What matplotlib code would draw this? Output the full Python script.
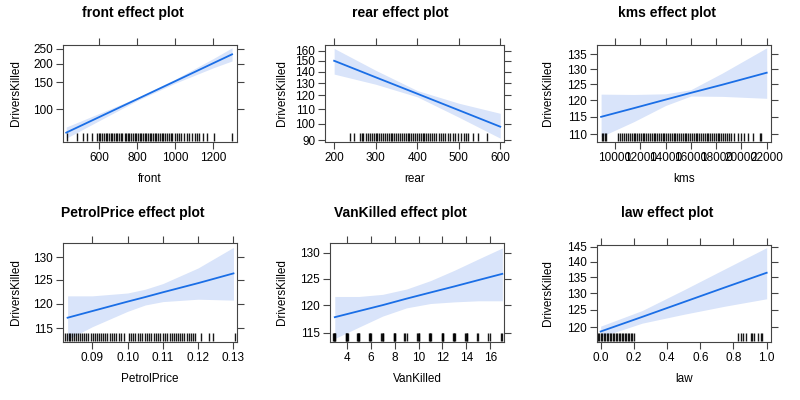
import matplotlib.pyplot as plt
import matplotlib.transforms as mtransforms
from matplotlib.ticker import NullLocator

plt.rcParams['font.family'] = ['Liberation Sans', 'DejaVu Sans']

line_color = '#1a6ee6'
band_color = '#d9e4fa'
frame_color = '#444444'

# effect estimates (fit, lower, upper)
front_x = [426, 600, 800, 1000, 1200, 1299]
front_fit = [70, 88.7, 116.5, 153, 201, 230]
front_lo = [64.3, 84.0, 114.0, 148.5, 187.4, 208]
front_hi = [76.2, 93.7, 119.1, 157.7, 215.6, 254]

rear_x = [200, 300, 400, 500, 600]
rear_fit = [150, 134.9, 121.4, 109.2, 98.2]
rear_lo = [137.7, 129.0, 119.0, 104.4, 91.2]
rear_hi = [162.4, 141.1, 123.9, 114.2, 107]

kms_x = [8900, 11500, 14000, 16000, 18500, 22000]
kms_fit = [115, 117.6, 120.2, 122.3, 124.9, 128.8]
kms_lo = [109.3, 113.6, 118.4, 121.3, 121.2, 120.6]
kms_hi = [121.9, 121.8, 122.0, 123.3, 128.7, 137.3]

petrol_x = [0.083, 0.09, 0.10, 0.105, 0.11, 0.12, 0.13]
petrol_fit = [117.1, 118.45, 120.4, 121.35, 122.35, 124.3, 126.4]
petrol_lo = [112.8, 115.3, 118.4, 119.7, 120.4, 120.9, 120.7]
petrol_hi = [121.6, 121.6, 122.2, 123.0, 124.2, 127.6, 132.2]

van_x = [3, 5, 7, 9, 11, 13, 15, 17]
van_fit = [117.8, 118.9, 120.0, 121.2, 122.35, 123.5, 124.7, 125.9]
van_lo = [114.0, 116.0, 118.0, 119.5, 120.3, 120.6, 120.8, 120.8]
van_hi = [121.6, 121.6, 122.0, 123.0, 124.6, 126.6, 128.8, 131.0]

law_x = [0, 0.25, 0.5, 0.75, 1.0]
law_fit = [118.8, 122.95, 127.3, 131.8, 136.4]
law_lo = [117.3, 121.15, 123.7, 126.1, 128.3]
law_hi = [120.3, 124.8, 131.0, 137.7, 144.7]

# rug (observed values of each predictor)
front_rug = [432, 484, 516, 537, 563, 586, 596, 605, 613, 624, 633, 641, 652, 660,
             668, 679, 688, 695, 705, 714, 722, 733, 741, 750, 759, 768, 777, 786,
             795, 803, 812, 822, 830, 839, 848, 857, 866, 874, 884, 892, 901, 910,
             918, 928, 936, 946, 955, 966, 975, 985, 996, 1008, 1020, 1031, 1045,
             1060, 1073, 1086, 1103, 1112, 1126, 1144, 1165, 1203, 1299]
rear_rug = [238, 248, 262, 266, 270, 276, 281, 286, 290, 295, 300, 304, 309, 313,
            318, 322, 327, 331, 336, 340, 345, 349, 354, 358, 363, 368, 372, 377,
            381, 386, 390, 395, 399, 404, 408, 413, 417, 422, 426, 431, 436, 441,
            446, 452, 457, 463, 468, 474, 480, 486, 492, 499, 506, 512, 518, 522,
            534, 546, 568]
kms_rug = [8948, 9080, 9211, 9316, 10263, 10420, 10550, 10700, 10880, 11020, 11150,
           11310, 11480, 11600, 11760, 11900, 12040, 12180, 12330, 12470, 12610,
           12760, 12900, 13050, 13190, 13340, 13480, 13620, 13770, 13910, 14060,
           14200, 14350, 14490, 14640, 14780, 14920, 15070, 15210, 15360, 15500,
           15650, 15790, 15940, 16080, 16230, 16370, 16520, 16660, 16810, 16950,
           17100, 17240, 17390, 17530, 17680, 17820, 17970, 18110, 18260, 18400,
           18550, 18700, 18850, 19000, 19200, 19420, 19700, 19941, 20204, 20520,
           20941, 21441, 21572]
petrol_rug = [0.0822, 0.0828, 0.0833, 0.0838, 0.0843, 0.0849, 0.0854, 0.0860,
              0.0866, 0.0871, 0.0877, 0.0883, 0.0889, 0.0895, 0.0901, 0.0907,
              0.0913, 0.0919, 0.0925, 0.0931, 0.0937, 0.0943, 0.0949, 0.0955,
              0.0961, 0.0968, 0.0975, 0.0982, 0.0989, 0.1003, 0.1009, 0.1016,
              0.1022, 0.1029, 0.1035, 0.1041, 0.1048, 0.1054, 0.1061, 0.1067,
              0.1074, 0.1080, 0.1087, 0.1093, 0.1100, 0.1106, 0.1113, 0.1119,
              0.1125, 0.1131, 0.1137, 0.1143, 0.1149, 0.1155, 0.1161, 0.1167,
              0.1173, 0.1179, 0.1185, 0.1191, 0.1209, 0.1232, 0.1243, 0.1303]
van_rug = [2.85, 2.9, 2.95, 3.0, 3.05, 3.9, 3.95, 4.0, 4.05, 4.12, 4.85, 4.9, 4.95,
           5.0, 5.05, 5.88, 5.93, 5.98, 6.03, 6.9, 6.95, 7.0, 7.05, 7.92, 7.97,
           8.02, 8.07, 8.8, 8.9, 9.0, 9.9, 9.95, 10.0, 10.05, 10.85, 10.92, 10.97,
           11.02, 11.92, 11.97, 12.02, 12.07, 12.9, 12.95, 13.0, 13.05, 13.92,
           13.97, 14.02, 14.07, 14.85, 14.95, 15.8, 15.95, 16.9, 17.0]
law_rug = [-0.018, -0.009, 0.0, 0.009, 0.018, 0.027, 0.036, 0.045, 0.054, 0.063,
           0.072, 0.081, 0.09, 0.099, 0.108, 0.117, 0.126, 0.135, 0.144, 0.153,
           0.162, 0.171, 0.18, 0.189, 0.198, 0.829, 0.843, 0.857, 0.873, 0.904,
           0.914, 0.924, 0.948, 0.964, 0.974]

names = ['front', 'rear', 'kms', 'PetrolPrice', 'VanKilled', 'law']
xs = [front_x, rear_x, kms_x, petrol_x, van_x, law_x]
fits = [front_fit, rear_fit, kms_fit, petrol_fit, van_fit, law_fit]
los = [front_lo, rear_lo, kms_lo, petrol_lo, van_lo, law_lo]
his = [front_hi, rear_hi, kms_hi, petrol_hi, van_hi, law_hi]
rugs = [front_rug, rear_rug, kms_rug, petrol_rug, van_rug, law_rug]

xticks = [[600, 800, 1000, 1200],
          [200, 300, 400, 500, 600],
          [10000, 12000, 14000, 16000, 18000, 20000, 22000],
          [0.09, 0.10, 0.11, 0.12, 0.13],
          [4, 6, 8, 10, 12, 14, 16],
          [0.0, 0.2, 0.4, 0.6, 0.8, 1.0]]
xticklabels = [['600', '800', '1000', '1200'],
               ['200', '300', '400', '500', '600'],
               ['10000', '12000', '14000', '16000', '18000', '20000', '22000'],
               ['0.09', '0.10', '0.11', '0.12', '0.13'],
               ['4', '6', '8', '10', '12', '14', '16'],
               ['0.0', '0.2', '0.4', '0.6', '0.8', '1.0']]
yticks = [[100, 150, 200, 250],
          [90, 100, 110, 120, 130, 140, 150, 160],
          [110, 115, 120, 125, 130, 135],
          [115, 120, 125, 130],
          [115, 120, 125, 130],
          [120, 125, 130, 135, 140, 145]]
xlims = [(409, 1325), (178, 609), (8576, 22340), (0.0817, 0.131), (2.6, 17.14), (-0.022, 1.026)]
ylims = [(60.7, 265), (89.0, 166), (107.8, 138.3), (112.3, 133.2), (113.4, 132.0), (115.9, 145.6)]

W, H = 800, 400
# panel boxes in pixels: left, top, right, bottom
boxes = [(63, 45, 237, 142), (325, 45, 504, 142), (597, 45, 771, 142),
         (63, 243, 237, 342), (330, 243, 504, 342), (597, 245, 771, 342)]
ylabel_px = [22, 288.5, 554.5, 22, 288.5, 554.5]
title_cx = [133, 400, 667, 133, 400, 667]
title_cy = [12.7, 12.7, 12.7, 212.7, 212.7, 212.7]

fig = plt.figure(figsize=(8, 4), dpi=100)

for i in range(6):
    l, t, r, b = boxes[i]
    ax = fig.add_axes([l / W, 1 - b / H, (r - l) / W, (b - t) / H])
    ax.fill_between(xs[i], los[i], his[i], color=band_color, lw=0)
    ax.plot(xs[i], fits[i], color=line_color, lw=1.3)
    trans = mtransforms.blended_transform_factory(ax.transData, ax.transAxes)
    ax.vlines(rugs[i], 0.01, 0.09, transform=trans, color='black', lw=1.0, alpha=0.9)
    ax.set_yscale('log')
    ax.set_xlim(xlims[i])
    ax.set_ylim(ylims[i])
    ax.set_xticks(xticks[i])
    ax.set_xticklabels(xticklabels[i])
    ax.set_yticks(yticks[i])
    ax.set_yticklabels([str(v) for v in yticks[i]])
    ax.yaxis.set_minor_locator(NullLocator())
    ax.xaxis.set_minor_locator(NullLocator())
    ax.tick_params(direction='out', length=5, width=0.8, color=frame_color,
                   labelsize=8.5, pad=2, top=True, right=True,
                   labeltop=False, labelright=False)
    for s in ax.spines.values():
        s.set_color(frame_color)
        s.set_linewidth(0.8)
    ax.set_xlabel(names[i], fontsize=8.5)
    ax.set_ylabel('DriversKilled', fontsize=8.5)
    ax.xaxis.set_label_coords(0.5, -30.5 / (b - t))
    ax.yaxis.set_label_coords((ylabel_px[i] - l) / (r - l), 0.5)
    fig.text(title_cx[i] / W, 1 - title_cy[i] / H, names[i] + ' effect plot',
             fontsize=10, fontweight='bold', ha='center', va='center')

fig.savefig('out.png', dpi=100)
